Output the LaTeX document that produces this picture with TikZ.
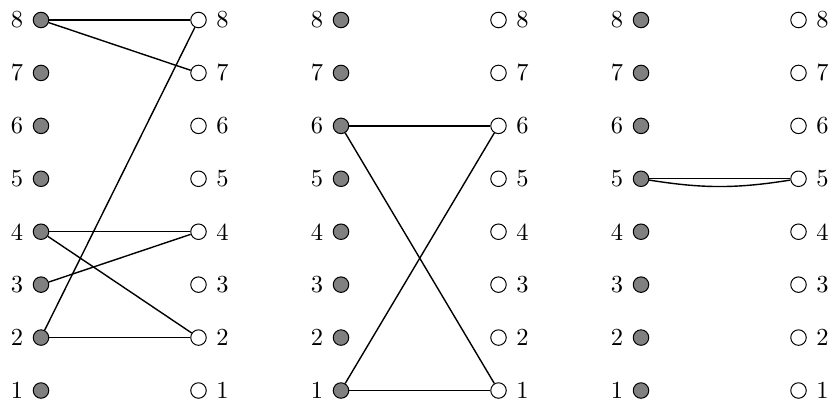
\documentclass[tikz,border=0pt]{standalone}
\begin{document}
\begin{tikzpicture}[x=1pt,y=-1pt,
  ldot/.style={circle,draw=black,fill=gray,inner sep=0pt,minimum size=15.5pt,line width=1pt},
  rdot/.style={circle,draw=black,fill=white,inner sep=0pt,minimum size=15.5pt,line width=1pt},
  lab/.style={inner sep=0pt,transform shape,scale=2.45},
  edge/.style={line width=1.4pt}]
\useasboundingbox (0,0) rectangle (834,408);
\foreach \p/\lx in {a/41,b/341,c/641}{
  \pgfmathsetmacro{\rx}{\lx+157.5}
  \foreach \i in {1,...,8}{
    \pgfmathsetmacro{\yy}{390.5-(\i-1)*52.93}
    \node[ldot] (\p L\i) at (\lx,\yy) {};
    \node[rdot] (\p R\i) at (\rx,\yy) {};
    \node[lab] (\p LT\i) at (\lx-24,\yy) {\i};
    \node[lab] (\p RT\i) at (\rx+24,\yy) {\i};
  }
}
% panel 1
\draw[edge] (aL8) -- (aR8);
\draw[edge] (aL8) -- (aR7);
\draw[edge] (aL2) -- (aR8);
\draw[edge] (aL4) -- (aR4);
\draw[edge] (aL4) -- (aR2);
\draw[edge] (aL3) -- (aR4);
\draw[edge] (aL2) -- (aR2);
% panel 2
\draw[edge] (bL6) -- (bR6);
\draw[edge] (bL6) -- (bR1);
\draw[edge] (bL1) -- (bR6);
\draw[edge] (bL1) -- (bR1);
% panel 3
\draw[edge] (cL5) -- (cR5);
\draw[edge] (cL5) to[bend right=9] (cR5);
\end{tikzpicture}
\end{document}
